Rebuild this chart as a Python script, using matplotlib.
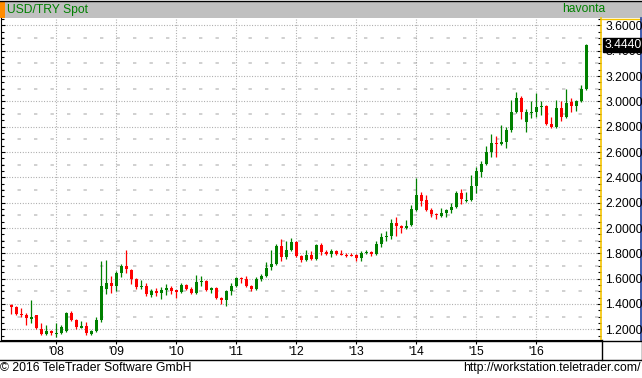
import matplotlib.pyplot as plt
import matplotlib.transforms as mtransforms
from matplotlib.patches import Rectangle
import numpy as np

plt.rcParams['font.family'] = ['Liberation Sans', 'DejaVu Sans']

# monthly candles, month index counted from Jan 2008 (Apr 2007 .. Nov 2016)
months = np.arange(-9, 107)
opens = [
    1.395, 1.374, 1.321, 1.313, 1.282, 1.313, 1.205, 1.163, 1.190,
    1.166, 1.174, 1.190, 1.326, 1.276, 1.213, 1.224, 1.160, 1.190, 1.274, 1.518, 1.568,
    1.542, 1.647, 1.700, 1.668, 1.595, 1.537, 1.542, 1.474, 1.505, 1.487, 1.510, 1.529,
    1.508, 1.492, 1.550, 1.518, 1.484, 1.576, 1.584, 1.508, 1.529, 1.445, 1.431, 1.503,
    1.542, 1.605, 1.600, 1.542, 1.516, 1.595, 1.621, 1.695, 1.716, 1.858, 1.774, 1.826,
    1.892, 1.782, 1.747, 1.787, 1.753, 1.866, 1.813, 1.795, 1.818, 1.797, 1.790, 1.787,
    1.787, 1.761, 1.805, 1.813, 1.795, 1.874, 1.932, 1.937, 2.042, 2.016, 2.000, 2.024,
    2.142, 2.261, 2.221, 2.142, 2.111, 2.095, 2.121, 2.142, 2.169, 2.274, 2.214, 2.221,
    2.332, 2.443, 2.506, 2.603, 2.674, 2.664, 2.682, 2.774, 2.919, 3.024, 2.840, 2.911,
    2.919, 2.956, 2.966, 2.822, 2.795, 2.951, 2.874, 2.998, 2.964, 3.003, 3.098,
]
highs = [
    1.400, 1.387, 1.366, 1.329, 1.432, 1.313, 1.247, 1.234, 1.197,
    1.247, 1.234, 1.337, 1.345, 1.284, 1.266, 1.258, 1.192, 1.295, 1.739, 1.747, 1.621,
    1.663, 1.716, 1.826, 1.674, 1.603, 1.589, 1.563, 1.518, 1.524, 1.537, 1.558, 1.542,
    1.510, 1.568, 1.558, 1.531, 1.629, 1.621, 1.589, 1.537, 1.537, 1.455, 1.510, 1.563,
    1.616, 1.616, 1.621, 1.550, 1.611, 1.637, 1.729, 1.826, 1.874, 1.911, 1.900, 1.918,
    1.897, 1.787, 1.826, 1.818, 1.874, 1.884, 1.826, 1.834, 1.826, 1.826, 1.800, 1.800,
    1.792, 1.816, 1.826, 1.821, 1.900, 1.963, 1.976, 2.071, 2.084, 2.024, 2.063, 2.182,
    2.398, 2.282, 2.261, 2.156, 2.121, 2.156, 2.150, 2.195, 2.292, 2.308, 2.287, 2.419,
    2.479, 2.532, 2.651, 2.743, 2.727, 2.814, 2.801, 3.011, 3.077, 3.043, 2.940, 3.003,
    3.069, 3.006, 2.972, 2.874, 3.011, 3.003, 3.098, 3.024, 3.011, 3.130, 3.453,
]
lows = [
    1.321, 1.310, 1.295, 1.237, 1.253, 1.205, 1.158, 1.158, 1.158,
    1.137, 1.166, 1.182, 1.268, 1.200, 1.208, 1.153, 1.153, 1.182, 1.261, 1.476, 1.489,
    1.500, 1.611, 1.647, 1.558, 1.518, 1.518, 1.466, 1.458, 1.466, 1.439, 1.474, 1.479,
    1.447, 1.484, 1.510, 1.479, 1.479, 1.542, 1.500, 1.489, 1.442, 1.400, 1.384, 1.471,
    1.537, 1.568, 1.537, 1.505, 1.508, 1.584, 1.611, 1.668, 1.708, 1.742, 1.753, 1.818,
    1.774, 1.734, 1.742, 1.747, 1.747, 1.787, 1.787, 1.774, 1.787, 1.787, 1.774, 1.776,
    1.742, 1.742, 1.795, 1.779, 1.787, 1.847, 1.897, 1.913, 1.940, 1.963, 1.990, 2.016,
    2.137, 2.177, 2.135, 2.090, 2.069, 2.085, 2.090, 2.121, 2.156, 2.190, 2.208, 2.216,
    2.274, 2.400, 2.498, 2.558, 2.564, 2.656, 2.632, 2.761, 2.911, 2.861, 2.761, 2.872,
    2.880, 2.893, 2.814, 2.793, 2.788, 2.848, 2.866, 2.919, 2.927, 2.995, 3.090,
]
closes = [
    1.379, 1.321, 1.310, 1.292, 1.295, 1.213, 1.163, 1.187, 1.171,
    1.171, 1.216, 1.326, 1.274, 1.221, 1.226, 1.174, 1.187, 1.274, 1.542, 1.566, 1.545,
    1.647, 1.700, 1.674, 1.597, 1.537, 1.545, 1.476, 1.503, 1.489, 1.510, 1.526, 1.505,
    1.497, 1.550, 1.518, 1.487, 1.576, 1.584, 1.508, 1.529, 1.450, 1.431, 1.503, 1.542,
    1.605, 1.595, 1.542, 1.516, 1.595, 1.621, 1.682, 1.716, 1.858, 1.774, 1.826, 1.887,
    1.782, 1.750, 1.787, 1.755, 1.866, 1.813, 1.795, 1.818, 1.795, 1.790, 1.782, 1.779,
    1.761, 1.800, 1.813, 1.795, 1.874, 1.932, 1.940, 2.042, 2.016, 2.000, 2.016, 2.150,
    2.261, 2.216, 2.142, 2.111, 2.103, 2.121, 2.142, 2.169, 2.279, 2.227, 2.224, 2.332,
    2.450, 2.506, 2.603, 2.669, 2.666, 2.682, 2.774, 2.919, 3.024, 2.919, 2.914, 2.919,
    2.953, 2.964, 2.822, 2.795, 2.945, 2.874, 2.985, 2.964, 3.003, 3.098, 3.444,
]

year_starts = [0, 12, 24, 36, 48, 60, 72, 84, 96]
year_labels = ["'08", "'09", "'10", "'11", "'12", "'13", "'14", "'15", "'16"]
price_ticks = [1.2, 1.4, 1.6, 1.8, 2.0, 2.2, 2.4, 2.6, 2.8, 3.0, 3.2, 3.4, 3.6]
half_ticks = [1.3, 1.5, 1.7, 1.9, 2.1, 2.3, 2.5, 2.7, 2.9, 3.1, 3.3, 3.5]
last_price = 3.4440

W, H = 642, 378
GREEN = '#008000'
RED = '#ff0000'


def px(x0, y0, x1, y1):
    return [x0 / W, 1 - y1 / H, (x1 - x0) / W, (y1 - y0) / H]


fig = plt.figure(figsize=(W / 100, H / 100), dpi=100)

# background layer in pixel coordinates (header, footer, frames)
bg = fig.add_axes([0, 0, 1, 1])
bg.set_xlim(0, W)
bg.set_ylim(H, 0)
bg.axis('off')
bg.add_patch(Rectangle((0, 0.5), W, 17, fc='#c0c0c0', ec='none'))
bg.add_patch(Rectangle((0, 1), 5, 16.5, fc='#ff8c00', ec='none'))
bg.plot([0, W], [0.5, 0.5], color='black', lw=1)
bg.text(7, 9.5, 'USD/TRY Spot', color=GREEN, fontsize=8.7, va='center', ha='left')
bg.text(562, 9.5, 'havonta', color=GREEN, fontsize=8.7, va='center', ha='left')
bg.plot([602, 641], [18.5, 18.5], color='#f5c400', lw=1)
bg.plot([640.5, 640.5], [18, 340], color='#1f3fa0', lw=1.2)
bg.plot([0, W], [340.5, 340.5], color='black', lw=1)
bg.plot([0, W], [359.5, 359.5], color='black', lw=1)
bg.plot([601.5, 601.5], [340, 359.5], color='black', lw=1)
bg.plot([641.5, 641.5], [340, 359.5], color='black', lw=1)
bg.text(0, 368, '\u00a9 2016 TeleTrader Software GmbH', fontsize=8.8, va='center', ha='left')
bg.text(641, 368, 'http://workstation.teletrader.com/', fontsize=8.8, va='center', ha='right')

# main price panel
ax = fig.add_axes(px(1, 18, 601, 340))
ax.set_xlim((1 - 56.3) / 5, (601 - 56.3) / 5)
ax.set_ylim(1.2 - 10.7 / 126.6, 1.2 + 311.3 / 126.6)

for y in price_ticks:
    ax.axhline(y, color='#a0a0a0', lw=0.8, ls=(0, (0.8, 1.6)), zorder=0)
for y in half_ticks:
    ax.axhline(y, color='#c4c4c4', lw=1.1, ls=(0, (2.2, 8.6)), zorder=0)
for m in year_starts:
    ax.axvline(m, color='#a0a0a0', lw=0.8, ls=(0, (0.8, 1.6)), zorder=0)

o = np.array(opens)
c = np.array(closes)
colors = [GREEN if cc >= oo else RED for oo, cc in zip(o, c)]
ax.vlines(months, lows, highs, colors=colors, lw=0.9, zorder=2)
ax.bar(months, np.maximum(np.abs(c - o), 0.008), width=0.62,
       bottom=np.minimum(o, c), color=colors, zorder=3)

for side in ['left', 'bottom']:
    ax.spines[side].set_color('black')
ax.spines['top'].set_visible(False)
ax.spines['right'].set_color('#f5c400')
ax.spines['right'].set_linewidth(1.2)

ax.set_yticks(price_ticks)
ax.set_yticklabels([f'{v:.4f}' for v in price_ticks])
ax.set_yticks(np.arange(1.15, 3.66, 0.05), minor=True)
ax.tick_params(axis='y', which='both', direction='in', left=True, right=True,
               labelleft=False, labelright=True, labelsize=8.7, pad=3)
ax.tick_params(axis='y', which='major', length=3.2, width=0.8)
ax.tick_params(axis='y', which='minor', length=2.2, width=0.8)

ax.set_xticks(year_starts)
ax.set_xticklabels(year_labels)
ax.tick_params(axis='x', direction='out', length=3, width=0.8, labelsize=8.7, pad=1.5)

trans = mtransforms.blended_transform_factory(ax.transAxes, ax.transData)
ax.text(1.0055, last_price, f'{last_price:.4f}', transform=trans, color='white',
        fontsize=8.7, va='center', ha='left', clip_on=False, zorder=10,
        bbox=dict(fc='black', ec='black', pad=0.8))

fig.savefig('out.png', dpi=100)
